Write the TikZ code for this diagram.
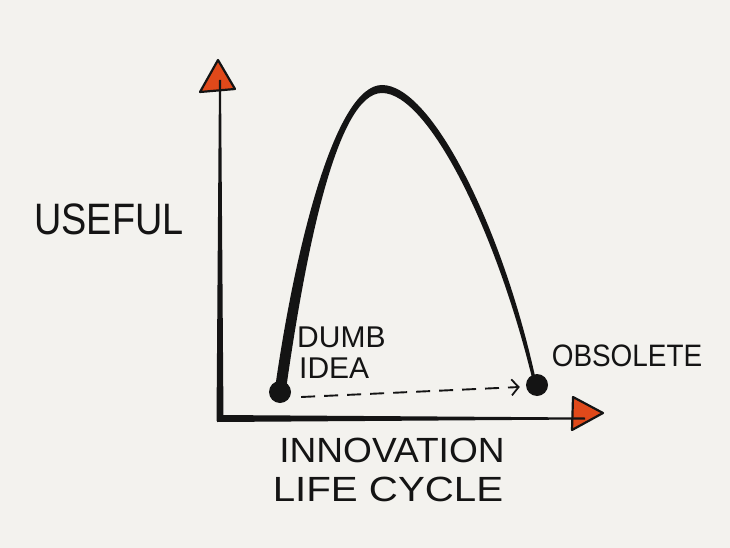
\documentclass[tikz,border=0pt]{standalone}
\usepackage{fontspec}
\setmainfont{Liberation Sans}
\usetikzlibrary{arrows.meta}
\definecolor{bg}{HTML}{F3F2EE}
\definecolor{tri}{HTML}{E0491A}
\definecolor{ink}{HTML}{141414}
\begin{document}
\begin{tikzpicture}[x=1pt,y=-1pt,
  lbl/.style={inner sep=0pt, text=ink},
  dot/.style={circle, fill=ink, inner sep=0pt, minimum size=22pt},
  tiptri/.style={fill=tri, draw=ink, line width=2.2pt, line join=round},
  flow/.style={draw=ink, line width=1.9pt, dash pattern=on 14pt off 9pt, -{Straight Barb[length=7pt,width=16pt,line width=1.8pt]}}]
\fill[bg] (0,0) rectangle (730,548);
\useasboundingbox (0,0) rectangle (730,548);
% arrow heads of axes
\draw[tiptri] (218,60) -- (235,89) -- (200,92) -- cycle;
\draw[tiptri] (603,413) -- (572,430) -- (573,397) -- cycle;
% axes (tapered strokes)
\fill[ink] (219,80) -- (221,80) -- (223.5,421) -- (216.5,421) -- cycle;
\fill[ink] (217,415) -- (585,417.5) -- (585,419.5) -- (217,422) -- cycle;
% curve (tapered)
\fill[ink] (274.5,392) .. controls (294.5,249) and (335,85) .. (382,85)
  .. controls (432,85) and (503.5,229) .. (536.5,383)
  -- (533.5,384) .. controls (497,231) and (428,93) .. (382,93)
  .. controls (337,93) and (305.5,251) .. (285.5,393) -- cycle;
% dots
\node[dot] (dumb) at (280,392) {};
\node[dot] (obs) at (537,385) {};
\draw[flow] ([shift={(10pt,-5pt)}]dumb.east) -- ([shift={(-6pt,-2pt)}]obs.west);
% labels
\node[lbl, xscale=0.86] (useful) at (109,219) {\fontsize{44}{44}\selectfont USEFUL};
\node[lbl, anchor=west] (dumb1) at (297,337.5) {\fontsize{30}{30}\selectfont DUMB};
\node[lbl, anchor=west] (dumb2) at (299,368.5) {\fontsize{30}{30}\selectfont IDEA};
\node[lbl, xscale=0.9] (obstxt) at (627,356) {\fontsize{31}{31}\selectfont OBSOLETE};
\node[lbl, xscale=1.06] (innov) at (392,450.5) {\fontsize{35}{35}\selectfont INNOVATION};
\node[lbl, xscale=1.15] (life) at (388,489.5) {\fontsize{35}{35}\selectfont LIFE CYCLE};
\end{tikzpicture}
\end{document}
